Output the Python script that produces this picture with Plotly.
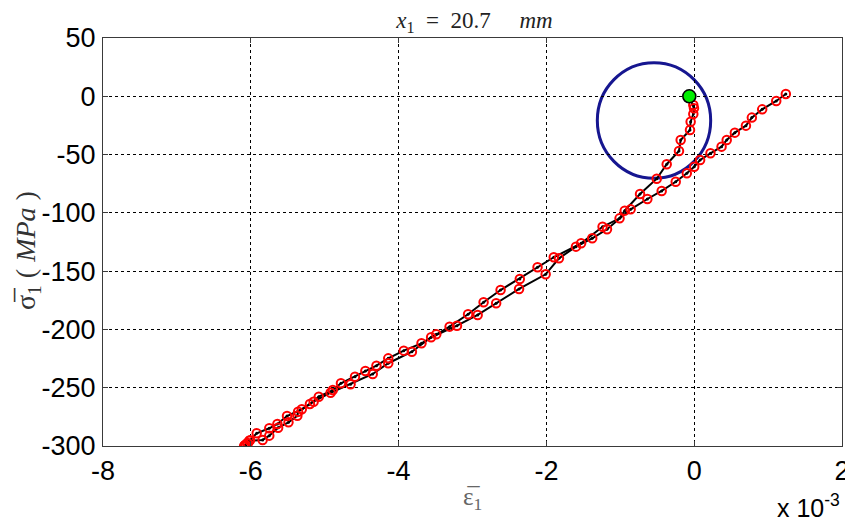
import plotly.graph_objects as go

# strain in units of 1e-3, stress in MPa
load_x = [-0.066, -0.012, -0.003, -0.012, -0.048, -0.057, -0.183, -0.206, -0.372, -0.507,
          -0.733, -0.94, -1.01, -1.24, -1.53, -1.90, -2.12, -2.36, -2.62, -2.85, -3.06,
          -3.31, -3.49, -3.69, -3.93, -4.14, -4.30, -4.45, -4.59, -4.78, -4.89, -5.08,
          -5.20, -5.31, -5.51, -5.64, -5.75, -5.92, -6.01, -6.05, -6.08]
load_y = [0.2, -7.5, -10.3, -15.2, -21.8, -28.9, -37.5, -46.9, -58.3, -70.7,
          -83.8, -98.1, -104.7, -111.9, -126.1, -138.1, -146.7, -156.7, -166.2, -176.7, -187,
          -197.6, -204.2, -211.9, -218.2, -224.8, -231.1, -235.6, -240.5, -246.2, -252, -257.7,
          -264, -268.5, -274.3, -281.1, -284.8, -289.1, -295, -297.5, -299.3]

unload_x = [-6.09, -6.07, -6.04, -6.02, -5.84, -5.75, -5.63, -5.49, -5.37, -5.36, -5.15,
            -4.92, -4.65, -4.35, -4.14, -3.82, -3.56, -3.21, -2.93, -2.68, -2.37, -2.01,
            -1.83, -1.60, -1.38, -1.18, -0.86, -0.634, -0.44, -0.25, -0.10, 0.0, 0.08,
            0.22, 0.37, 0.44, 0.55, 0.70, 0.78, 0.92, 1.11, 1.24]
unload_y = [-300, -299, -297.7, -295.4, -294.8, -291.1, -284.3, -279.7, -274, -270.6, -262,
            -254.3, -247, -238.2, -229, -219.1, -206.7, -196.8, -187.6, -177.6, -165.3, -152.7,
            -139, -129, -121.8, -114.1, -97, -88.1, -81.2, -73.3, -66.1, -60.4, -54.6,
            -48.9, -43.2, -37.5, -31.2, -25.2, -18.3, -11.2, -4, 2]

start_x = [-0.066]
start_y = [0.0]

circle_center = (-0.544, -20.8)
circle_radius = (0.767, 49.6)

x_ticks = [-8, -6, -4, -2, 0, 2]
y_ticks = [-300, -250, -200, -150, -100, -50, 0, 50]

fig = go.Figure()

for xs, ys in [(load_x, load_y), (unload_x, unload_y)]:
    fig.add_trace(go.Scatter(x=xs, y=ys, mode="lines+markers",
                             line=dict(color="black", width=2),
                             marker=dict(color="black", size=3),
                             showlegend=False, hoverinfo="skip"))
for xs, ys in [(load_x, load_y), (unload_x, unload_y)]:
    fig.add_trace(go.Scatter(x=xs, y=ys, mode="markers",
                             marker=dict(symbol="circle-open", color="red", size=8.5,
                                         line=dict(color="red", width=2)),
                             showlegend=False))

fig.add_trace(go.Scatter(x=start_x, y=start_y, mode="markers",
                         marker=dict(color="#00ee00", size=13,
                                     line=dict(color="black", width=1.6)),
                         showlegend=False))

cx, cy = circle_center
rx, ry = circle_radius
fig.add_shape(type="circle", xref="x", yref="y",
              x0=cx - rx, x1=cx + rx, y0=cy - ry, y1=cy + ry,
              line=dict(color="#161690", width=3), layer="below")

axis_common = dict(
    showline=True, linecolor="#3a3a3a", linewidth=1, mirror="allticks",
    ticks="inside", ticklen=5, tickcolor="#3a3a3a",
    showgrid=True, gridcolor="black", gridwidth=1, griddash="3px,3px",
    zeroline=False, automargin=False,
    tickfont=dict(family="Liberation Sans, Arial", size=27, color="black"),
)

fig.update_xaxes(range=[-8, 2], tickvals=x_ticks, ticktext=[str(v) for v in x_ticks],
                 ticklabelstandoff=1, **axis_common)
fig.update_yaxes(range=[-300, 50], tickvals=y_ticks, ticktext=[str(v) for v in y_ticks],
                 ticklabelstandoff=1, **axis_common)

nb = "\u00a0"
# page body has an 8px margin, so the figure is 8px smaller than the window
fig.update_layout(
    width=845, height=516,
    margin=dict(l=95, r=11, t=30, b=78, autoexpand=False),
    plot_bgcolor="white", paper_bgcolor="white",
    title=dict(text=f"<i>x</i><sub>1</sub>{nb}{nb}={nb}{nb}20.7{nb * 5}<i>mm</i>",
               font=dict(family="Liberation Serif, Times New Roman", size=23, color="#222"),
               x=0.552, xanchor="center", y=0.976, yanchor="middle", yref="container",
               automargin=False),
)

fig.add_annotation(text="σ\u0305<sub>1</sub>" + nb + "(" + nb + "<i>MPa</i>" + nb + ")",
                   textangle=-90,
                   xref="paper", yref="paper", x=-0.103, y=0.48,
                   xanchor="center", yanchor="middle", showarrow=False,
                   font=dict(family="Liberation Serif, DejaVu Serif", size=28, color="#333"))
fig.add_annotation(text="ε\u0305<sub>1</sub>",
                   xref="paper", yref="paper", x=0.5, y=-0.085,
                   xanchor="center", yanchor="top", showarrow=False,
                   font=dict(family="Liberation Serif, DejaVu Serif", size=25, color="#666"))
fig.add_annotation(text="x 10<sup>-3</sup>",
                   xref="paper", yref="paper", x=1.0, y=-0.19,
                   xanchor="right", yanchor="bottom", showarrow=False,
                   font=dict(family="Liberation Sans, Arial", size=25, color="black"))

fig.write_html("out.html")
